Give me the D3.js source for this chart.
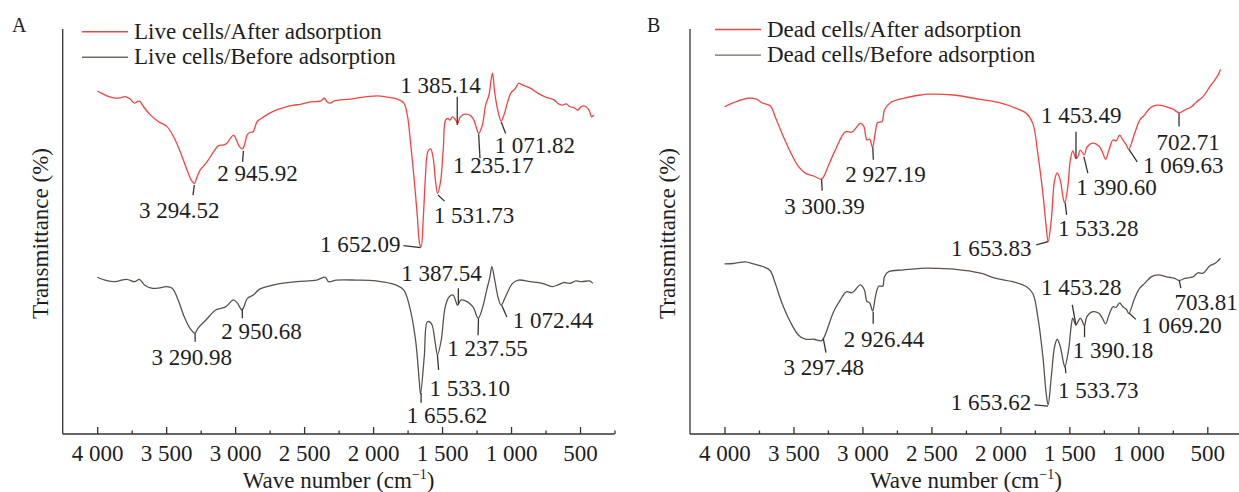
<!DOCTYPE html>
<html>
<head>
<meta charset="utf-8">
<script src="https://cdn.jsdelivr.net/npm/d3@7/dist/d3.min.js"></script>
<style>
  html, body { margin: 0; padding: 0; background: #fff; }
  svg { display: block; }
  svg text { font-family: "Liberation Serif", "Times New Roman", serif !important; fill: #1e1e1e; }
</style>
</head>
<body>
<svg id="chart" width="1239" height="492" font-family="Liberation Serif"></svg>
<script>
// ---------------- DATA ----------------
const majorTicks = [4000, 3500, 3000, 2500, 2000, 1500, 1000, 500];
const minorTicks = [3750, 3250, 2750, 2250, 1750, 1250, 750, 250];
const tickLabels = ["4 000", "3 500", "3 000", "2 500", "2 000", "1 500", "1 000", "500"];
const panelLetters = ["A", "B"];
const legendA = ["Live cells/After adsorption", "Live cells/Before adsorption"];
const legendB = ["Dead cells/After adsorption", "Dead cells/Before adsorption"];
const xTitle = "Wave number (cm";
const xTitleSup = "\u22121";
const yTitle = "Transmittance (%)";

// [wave number, transmittance (arbitrary offset %)]
const liveAfter = [
  [4000,84.7],[3966,84.1],[3930,83.5],[3882,83.0],[3833,83.0],[3797,83.3],[3761,82.7],[3731,81.7],
  [3712,82.0],[3693,82.2],[3664,80.8],[3615,78.8],[3555,77.1],[3494,75.9],[3446,73.4],[3398,69.7],
  [3349,65.2],[3318,62.7],[3295,61.9],[3276,63.5],[3253,65.2],[3204,67.2],[3156,69.7],[3120,71.2],
  [3083,71.4],[3059,71.8],[3035,73.0],[3011,73.8],[2991,72.6],[2967,70.9],[2946,70.4],[2926,72.2],
  [2914,73.8],[2890,74.5],[2870,74.6],[2841,77.1],[2793,78.3],[2721,79.7],[2648,80.6],[2575,81.2],
  [2527,81.4],[2454,82.0],[2382,82.2],[2353,82.9],[2333,82.0],[2309,81.7],[2285,82.2],[2164,82.7],
  [2043,83.3],[1970,83.5],[1898,83.2],[1825,82.7],[1777,81.7],[1752,78.8],[1729,72.2],[1705,63.9],
  [1680,54.1],[1661,46.7],[1652,46.2],[1636,53.3],[1620,63.9],[1603,69.7],[1583,70.4],[1564,68.1],
  [1547,62.3],[1532,59.4],[1511,62.3],[1491,70.5],[1475,77.5],[1458,77.9],[1443,77.5],[1426,78.3],
  [1409,77.9],[1385,76.7],[1371,78.1],[1342,78.9],[1293,78.6],[1269,77.5],[1250,75.5],[1235,74.2],
  [1208,76.3],[1184,81.2],[1160,83.7],[1143,87.8],[1134,89.1],[1119,84.5],[1099,80.4],[1072,77.3],
  [1051,78.8],[1027,81.7],[1003,84.1],[967,85.4],[946,86.6],[918,86.2],[861,85.4],[803,84.1],
  [745,83.1],[688,82.5],[660,81.6],[631,81.2],[600,81.5],[573,80.8],[545,80.6],[517,80.0],
  [495,80.7],[473,81.0],[444,80.4],[430,79.6],[415,78.3],[401,78.8]
];
const liveBefore = [
  [4000,38.7],[3944,38.0],[3872,37.6],[3786,38.2],[3729,37.6],[3694,38.2],[3657,36.8],[3614,36.1],
  [3557,36.0],[3499,36.4],[3456,36.0],[3413,33.1],[3370,29.0],[3327,26.1],[3291,24.9],[3270,26.1],
  [3213,28.1],[3141,30.6],[3069,31.4],[3012,33.1],[2983,32.3],[2950,30.6],[2911,33.5],[2868,34.3],
  [2825,35.7],[2696,37.0],[2553,37.6],[2409,38.0],[2346,38.7],[2323,37.6],[2266,38.0],[2123,38.0],
  [1979,37.8],[1835,36.8],[1778,35.6],[1735,31.4],[1692,23.2],[1665,13.0],[1656,9.9],[1629,19.1],
  [1606,27.7],[1578,27.3],[1549,22.4],[1533,19.5],[1506,23.2],[1477,31.4],[1448,33.9],[1419,34.3],
  [1400,32.7],[1388,31.8],[1362,33.1],[1319,32.7],[1276,31.4],[1238,28.6],[1205,31.4],[1176,35.6],
  [1153,38.8],[1139,41.3],[1118,38.0],[1095,33.9],[1072,31.8],[1040,33.9],[989,37.2],[946,38.0],
  [861,37.6],[774,37.2],[702,36.4],[660,36.8],[620,37.4],[573,37.2],[530,37.8],[488,37.6],
  [430,37.8],[407,37.2]
];
const deadAfter = [
  [4000,80.8],[3935,81.8],[3826,82.9],[3765,82.6],[3729,81.8],[3668,81.0],[3632,78.3],[3583,74.2],
  [3523,69.7],[3463,66.0],[3414,64.4],[3354,63.7],[3300,62.9],[3282,63.5],[3245,66.4],[3197,70.1],
  [3124,74.6],[3075,74.6],[3015,76.7],[2991,76.0],[2967,72.6],[2948,72.8],[2927,70.8],[2906,74.6],
  [2890,76.9],[2858,77.1],[2841,80.0],[2798,81.8],[2701,82.9],[2580,83.7],[2531,83.9],[2338,83.7],
  [2144,82.6],[2007,81.8],[1885,80.4],[1813,79.2],[1765,76.7],[1729,69.3],[1692,59.4],[1668,51.2],
  [1654,47.5],[1631,52.8],[1607,62.7],[1588,64.5],[1566,62.7],[1542,57.8],[1533,57.1],[1511,61.1],
  [1493,67.6],[1475,69.9],[1453,68.0],[1438,68.5],[1421,70.1],[1391,68.9],[1373,70.8],[1329,71.8],
  [1286,71.1],[1261,69.7],[1237,67.8],[1213,70.1],[1184,72.6],[1160,72.4],[1136,73.8],[1112,72.6],
  [1087,71.4],[1070,70.3],[1027,74.2],[990,77.5],[954,78.8],[918,80.4],[869,81.2],[797,80.8],
  [749,80.2],[703,79.3],[664,80.0],[615,80.8],[579,82.0],[531,83.3],[483,85.7],[446,87.4],
  [422,88.6],[405,90.0]
];
const deadBefore = [
  [4000,42.0],[3935,42.1],[3850,42.5],[3790,42.0],[3717,41.3],[3668,40.3],[3632,37.2],[3583,32.3],
  [3523,27.7],[3463,24.4],[3414,23.4],[3354,23.4],[3297,23.0],[3282,23.6],[3257,25.7],[3209,30.2],
  [3160,33.1],[3117,35.1],[3075,34.9],[3015,36.8],[2986,35.6],[2967,32.7],[2948,32.4],[2926,30.4],
  [2906,33.9],[2882,36.5],[2853,36.5],[2841,38.8],[2810,40.1],[2701,40.5],[2580,40.9],[2459,40.9],
  [2338,40.7],[2144,39.7],[2030,38.4],[1910,37.6],[1813,36.4],[1765,34.7],[1729,29.0],[1692,19.1],
  [1668,10.0],[1654,7.2],[1631,14.1],[1607,21.6],[1588,23.4],[1566,21.6],[1542,17.5],[1533,16.6],
  [1506,20.7],[1486,26.9],[1475,28.6],[1453,26.9],[1438,27.7],[1421,28.6],[1402,27.5],[1390,26.7],
  [1373,29.0],[1329,30.2],[1286,29.8],[1261,28.6],[1237,27.2],[1213,29.4],[1184,31.4],[1160,31.3],
  [1136,32.4],[1112,31.4],[1087,30.8],[1069,29.8],[1027,33.5],[990,36.0],[954,37.2],[906,38.8],
  [858,39.3],[797,38.8],[737,38.4],[704,37.9],[664,38.4],[604,38.8],[568,39.8],[531,39.7],
  [483,41.5],[446,42.1],[430,42.5],[405,43.4]
];

// Peak annotations: leader line (w1,t1)->(w2,t2), label at (tw,tt)
const liveAfterPeaks = [
  {label:"3 294.52", w1:3296, t1:61.5, w2:3305, t2:59.0, tw:3405, tt:53.3, anchor:"middle"},
  {label:"2 945.92", w1:2940, t1:69.9, w2:2946, t2:67.2, tw:3129, tt:62.5, anchor:"start"},
  {label:"1 652.09", w1:1780, t1:46.5, w2:1655, t2:46.0, tw:1801, tt:44.9, anchor:"end"},
  {label:"1 531.73", w1:1530, t1:59.0, w2:1482, t2:57.5, tw:1560, tt:52.1, anchor:"start"},
  {label:"1 385.14", w1:1390, t1:83.3, w2:1390, t2:76.3, tw:1511, tt:84.2, anchor:"middle"},
  {label:"1 235.17", w1:1235, t1:74.0, w2:1225, t2:68.1, tw:1420, tt:64.4, anchor:"start"},
  {label:"1 071.82", w1:1072, t1:77.1, w2:1039, t2:74.2, tw:1119, tt:69.4, anchor:"start"}
];
const liveBeforePeaks = [
  {label:"3 290.98", w1:3290, t1:24.9, w2:3290, t2:22.8, tw:3314, tt:17.0, anchor:"middle"},
  {label:"2 950.68", w1:2948, t1:31.0, w2:2948, t2:28.6, tw:3100, tt:23.5, anchor:"start"},
  {label:"1 655.62", w1:1652, t1:10.1, w2:1652, t2:7.7, tw:1464, tt:2.7, anchor:"middle"},
  {label:"1 533.10", w1:1534, t1:19.5, w2:1525, t2:15.8, tw:1591, tt:9.4, anchor:"start"},
  {label:"1 387.54", w1:1382, t1:36.0, w2:1382, t2:31.9, tw:1504, tt:37.8, anchor:"middle"},
  {label:"1 237.55", w1:1236, t1:28.6, w2:1239, t2:24.4, tw:1463, tt:19.3, anchor:"start"},
  {label:"1 072.44", w1:1068, t1:31.8, w2:1030, t2:28.9, tw:988, tt:26.2, anchor:"start"}
];
const deadAfterPeaks = [
  {label:"3 300.39", w1:3296, t1:62.9, w2:3292, t2:60.1, tw:3275, tt:54.2, anchor:"middle"},
  {label:"2 927.19", w1:2925, t1:70.8, w2:2921, t2:67.7, tw:3124, tt:62.2, anchor:"start"},
  {label:"1 653.83", w1:1740, t1:46.7, w2:1654, t2:47.5, tw:1774, tt:43.9, anchor:"end"},
  {label:"1 533.28", w1:1530, t1:57.0, w2:1520, t2:54.1, tw:1583, tt:48.8, anchor:"start"},
  {label:"1 453.49", w1:1452, t1:74.6, w2:1452, t2:68.0, tw:1414, tt:76.8, anchor:"middle"},
  {label:"1 390.60", w1:1395, t1:68.5, w2:1366, t2:64.4, tw:1450, tt:59.0, anchor:"start"},
  {label:"1 069.63", w1:1068, t1:70.3, w2:1008, t2:67.2, tw:967, tt:64.4, anchor:"start"},
  {label:"702.71", w1:705, t1:79.2, w2:705, t2:75.9, tw:639, tt:70.1, anchor:"middle"}
];
const deadBeforePeaks = [
  {label:"3 297.48", w1:3284, t1:23.6, w2:3264, t2:20.1, tw:3281, tt:14.6, anchor:"middle"},
  {label:"2 926.44", w1:2922, t1:30.2, w2:2922, t2:27.2, tw:3136, tt:21.6, anchor:"start"},
  {label:"1 653.62", w1:1753, t1:7.2, w2:1655, t2:6.9, tw:1777, tt:5.9, anchor:"end"},
  {label:"1 533.73", w1:1530, t1:16.6, w2:1525, t2:15.0, tw:1583, tt:8.9, anchor:"start"},
  {label:"1 453.28", w1:1479, t1:31.9, w2:1452, t2:26.9, tw:1414, tt:34.3, anchor:"middle"},
  {label:"1 390.18", w1:1390, t1:26.7, w2:1390, t2:23.9, tw:1475, tt:18.8, anchor:"start"},
  {label:"1 069.20", w1:1066, t1:29.8, w2:1018, t2:28.3, tw:978, tt:24.9, anchor:"start"},
  {label:"703.81", w1:703, t1:37.9, w2:692, t2:36.0, tw:737, tt:30.6, anchor:"start"}
];

// ---------------- DRAW ----------------
const RED = "#ee4545", GREY = "#5b524e", LEG_GREY = "#6d6b5e", INK = "#333";
const SERIF = '"Liberation Serif", "Times New Roman", serif';
const svg = d3.select("#chart");
const FONT = 23;
const yScale = d3.scaleLinear().domain([0, 100]).range([434, 29]);

const panels = [
  {letter: panelLetters[0], left: 62.7, right: 614.5, legend: legendA, legX: 82, legY: 31.7,
   series: [{data: liveAfter, color: RED, peaks: liveAfterPeaks}, {data: liveBefore, color: GREY, peaks: liveBeforePeaks}],
   letterX: 12, yTitleX: 48},
  {letter: panelLetters[1], left: 690, right: 1241.8, legend: legendB, legX: 715, legY: 29.5,
   series: [{data: deadAfter, color: RED, peaks: deadAfterPeaks}, {data: deadBefore, color: GREY, peaks: deadBeforePeaks}],
   letterX: 647, yTitleX: 675}
];

function serifText(sel, size) {
  return sel.attr("font-family", SERIF).style("font-family", SERIF).style("font-size", size + "px");
}

panels.forEach(p => {
  const x = d3.scaleLinear().domain([4250, 250]).range([p.left, p.right]);
  const g = svg.append("g").attr("font-family", SERIF);

  // axes
  g.append("line").attr("x1", p.left).attr("x2", p.left).attr("y1", yScale(100)).attr("y2", yScale(0))
    .attr("stroke", INK).attr("stroke-width", 1.3);
  const xAxis = d3.axisBottom(x).tickValues(majorTicks).tickSize(-7).tickSizeOuter(0)
    .tickFormat((d, i) => tickLabels[i]);
  const ax = g.append("g").attr("transform", `translate(0,${yScale(0)})`).call(xAxis)
    .attr("font-family", SERIF).attr("font-size", FONT);
  ax.select(".domain").attr("stroke", INK).attr("stroke-width", 1.3)
    .attr("d", `M${p.left},0H${p.right}`);
  ax.selectAll(".tick line").attr("stroke", INK).attr("stroke-width", 1.3);
  serifText(ax.selectAll(".tick text").attr("y", 27).attr("dy", 0).attr("fill", "#1e1e1e"), FONT);
  const minor = d3.axisBottom(x).tickValues(minorTicks).tickSize(-3.5).tickSizeOuter(0).tickFormat("");
  const mx = g.append("g").attr("transform", `translate(0,${yScale(0)})`).call(minor);
  mx.select(".domain").remove();
  mx.selectAll(".tick line").attr("stroke", INK).attr("stroke-width", 1.3);

  // titles
  const xt = serifText(g.append("text").attr("x", (p.left + p.right) / 2).attr("y", 488)
    .attr("text-anchor", "middle"), FONT);
  xt.append("tspan").text(xTitle);
  xt.append("tspan").text(xTitleSup).attr("dy", -9).style("font-size", "14px");
  xt.append("tspan").text(")").attr("dy", 9);
  serifText(g.append("text").attr("transform", `translate(${p.yTitleX},${(yScale(100) + yScale(0)) / 2 + 2}) rotate(-90)`)
    .attr("text-anchor", "middle"), FONT).text(yTitle);
  serifText(g.append("text").attr("x", p.letterX).attr("y", 32), 20).text(p.letter);

  // legend
  p.legend.forEach((name, i) => {
    const ly = p.legY + i * 25.6;
    g.append("line").attr("x1", p.legX).attr("x2", p.legX + 46).attr("y1", ly).attr("y2", ly)
      .attr("stroke", i === 0 ? RED : LEG_GREY).attr("stroke-width", 1.4);
    serifText(g.append("text").attr("x", p.legX + 52).attr("y", ly + 7), FONT).text(name);
  });

  // curves
  const line = d3.line().x(d => x(d[0])).y(d => yScale(d[1])).curve(d3.curveCatmullRom.alpha(0.5));
  p.series.forEach(s => {
    g.append("path").datum(s.data).attr("d", line).attr("fill", "none")
      .attr("stroke", s.color).attr("stroke-width", 1.3).attr("stroke-linejoin", "round");
    s.peaks.forEach(a => {
      g.append("line").attr("x1", x(a.w1)).attr("y1", yScale(a.t1)).attr("x2", x(a.w2)).attr("y2", yScale(a.t2))
        .attr("stroke", "#333").attr("stroke-width", 1.3);
      serifText(g.append("text").attr("x", x(a.tw)).attr("y", yScale(a.tt)).attr("text-anchor", a.anchor), FONT)
        .text(a.label);
    });
  });
});
</script>
</body>
</html>
